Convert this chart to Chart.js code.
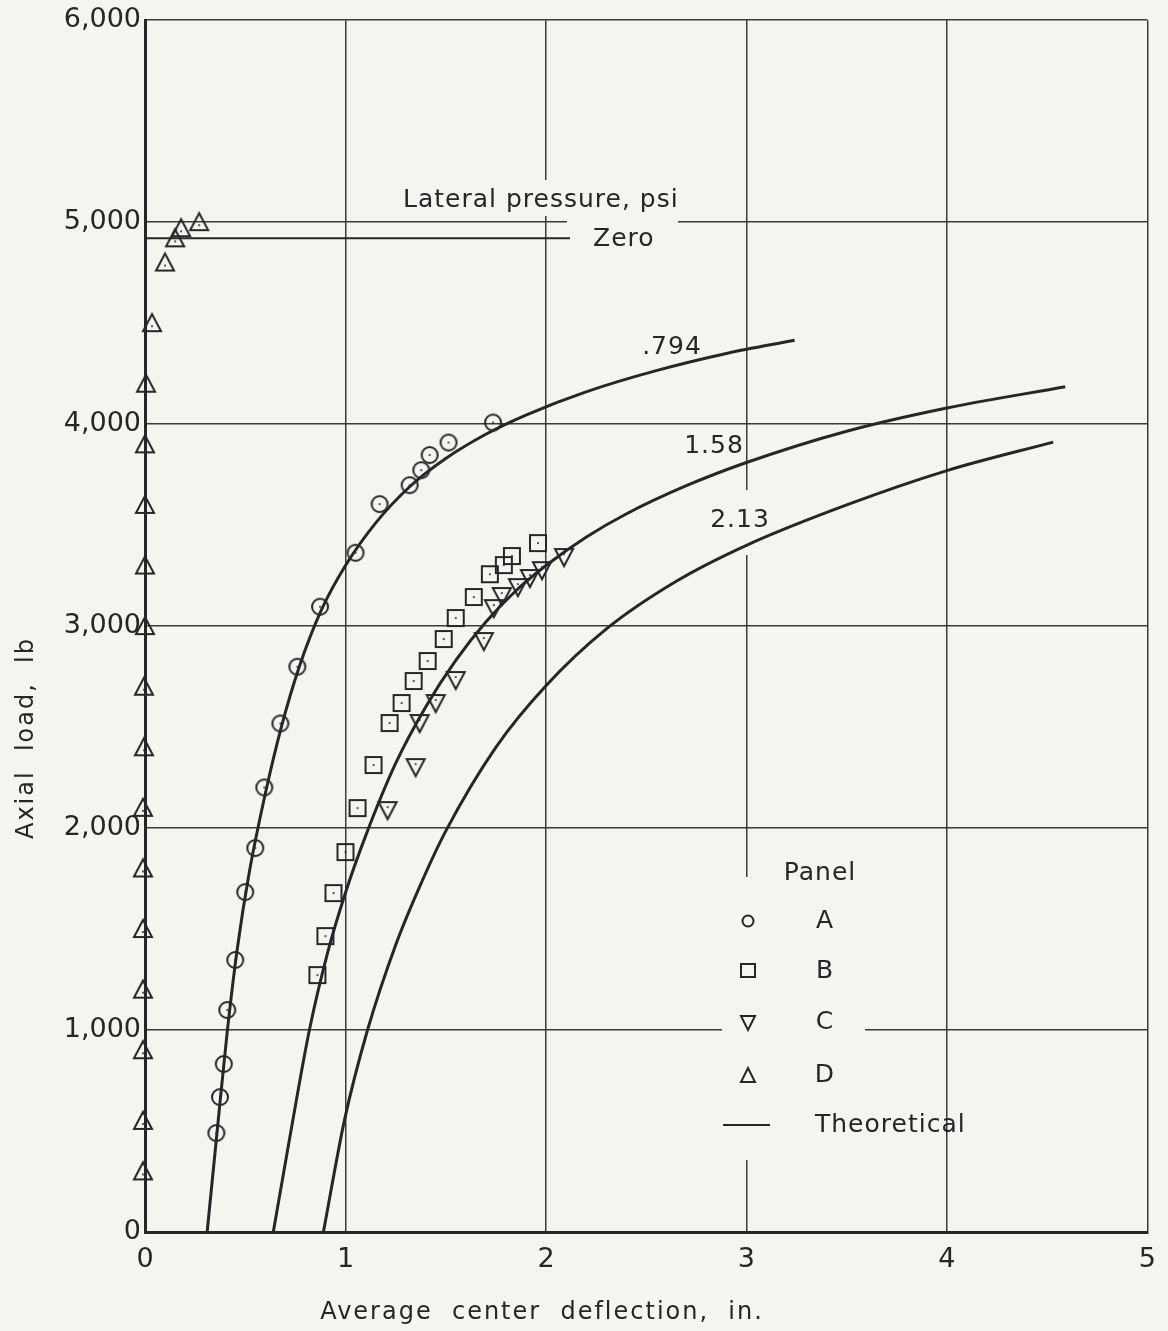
<!DOCTYPE html>
<html lang="en">
<head>
    <meta charset="UTF-8">
    <title>Axial load vs center deflection</title>
    <script src="https://cdn.jsdelivr.net/npm/chart.js"></script>
    <style>
        html, body { margin: 0; padding: 0; background: #f4f4f1; }
        #wrap { width: 1168px; height: 1331px; }
    </style>
</head>
<body>
<div id="wrap"><canvas id="chart" width="1168" height="1331"></canvas></div>
<script>
    // ---- data ----
    const xTicks = [0, 1, 2, 3, 4, 5];
    const yTicks = [0, 1000, 2000, 3000, 4000, 5000, 6000];

    // Panel A (circles)
    const defA  = [0.356, 0.374, 0.393, 0.41, 0.45, 0.50, 0.55, 0.595, 0.675, 0.76, 0.873, 1.05, 1.17, 1.32, 1.378, 1.42, 1.514, 1.736];
    const loadA = [490, 668, 832, 1099, 1347, 1683, 1901, 2201, 2518, 2799, 3096, 3363, 3604, 3698, 3772, 3847, 3909, 4008];
    // Panel B (squares)
    const defB  = [0.86, 0.90, 0.94, 1.00, 1.06, 1.14, 1.22, 1.28, 1.34, 1.41, 1.49, 1.55, 1.64, 1.72, 1.79, 1.83, 1.96];
    const loadB = [1272, 1465, 1678, 1881, 2099, 2312, 2520, 2619, 2728, 2827, 2936, 3040, 3144, 3257, 3302, 3347, 3411];
    // Panel C (down triangles)
    const defC  = [1.21, 1.35, 1.37, 1.45, 1.55, 1.69, 1.74, 1.78, 1.86, 1.92, 1.98, 2.09];
    const loadC = [2089, 2302, 2520, 2619, 2733, 2926, 3089, 3149, 3193, 3238, 3277, 3342];
    // Panel D (up triangles), listed from the top down
    const defD  = [0.27, 0.18, 0.15, 0.10, 0.035, 0.005, 0, 0, 0, 0, -0.005, -0.005, -0.01, -0.01, -0.01, -0.01, -0.01, -0.01, -0.01];
    const loadD = [5000, 4970, 4920, 4800, 4500, 4200, 3900, 3600, 3300, 3000, 2700, 2400, 2100, 1800, 1500, 1200, 900, 550, 300];

    // Theoretical curves, lateral pressure .794, 1.58, 2.13 psi
    const def794  = [0.31, 0.36, 0.41, 0.46, 0.52, 0.60, 0.68, 0.77, 0.88, 1.00, 1.15, 1.32, 1.50, 1.70, 1.90, 2.20, 2.55, 2.90, 3.24];
    const load794 = [0, 500, 990, 1400, 1780, 2170, 2500, 2800, 3080, 3300, 3510, 3690, 3830, 3950, 4045, 4160, 4265, 4350, 4415];
    const def158  = [0.64, 0.72, 0.82, 0.91, 1.00, 1.10, 1.25, 1.40, 1.55, 1.70, 1.85, 2.00, 2.20, 2.40, 2.70, 3.00, 3.50, 4.00, 4.59];
    const load158 = [0, 455, 1000, 1380, 1680, 1960, 2320, 2600, 2830, 3020, 3175, 3300, 3440, 3555, 3695, 3810, 3965, 4080, 4185];
    const def213  = [0.89, 0.995, 1.11, 1.25, 1.37, 1.50, 1.75, 2.00, 2.30, 2.65, 3.00, 3.50, 4.00, 4.53];
    const load213 = [0, 554, 1000, 1420, 1710, 1985, 2400, 2705, 2985, 3222, 3400, 3600, 3770, 3911];
    // Zero lateral pressure
    const defZero  = [0, 2.12];
    const loadZero = [4920, 4920];

    const BG = '#f4f4f1';
    const INK = '#262626';
    const FONT = "'DejaVu Sans', sans-serif";

    function pts(xs, ys) {
        return xs.map((v, i) => ({ x: v, y: ys[i] }));
    }

    // open symbols with the small centre dot of the original plot
    function makeMarker(kind) {
        const c = document.createElement('canvas');
        c.width = 24; c.height = 24;
        const g = c.getContext('2d');
        g.strokeStyle = INK; g.fillStyle = INK; g.lineWidth = 2;
        g.beginPath();
        let dotY = 12;
        if (kind === 'circle') {
            g.arc(12, 12, 8, 0, Math.PI * 2);
        } else if (kind === 'square') {
            g.rect(4, 4, 16, 16);
        } else if (kind === 'up') {
            g.moveTo(12, 3); g.lineTo(21, 20); g.lineTo(3, 20); g.closePath();
            dotY = 15;
        } else {
            g.moveTo(3, 4); g.lineTo(21, 4); g.lineTo(12, 21); g.closePath();
            dotY = 9;
        }
        g.stroke();
        g.beginPath(); g.arc(12, dotY, 1, 0, Math.PI * 2); g.fill();
        return c;
    }

    function markerSet(label, xs, ys, kind) {
        return {
            label: label,
            data: pts(xs, ys),
            showLine: false,
            pointStyle: makeMarker(kind),
            pointRadius: 10,
            clip: false
        };
    }

    function curveSet(label, xs, ys, width) {
        return {
            label: label,
            data: pts(xs, ys),
            showLine: true,
            borderColor: INK,
            borderWidth: width,
            pointRadius: 0,
            cubicInterpolationMode: 'monotone',
            fill: false
        };
    }

    // gaps in the grid behind the labels, and all the hand lettering
    const lettering = {
        id: 'lettering',
        beforeDatasetsDraw(chart) {
            const ctx = chart.ctx;
            ctx.save();
            ctx.fillStyle = BG;
            ctx.fillRect(567, 216, 111, 12);   // 5000 line behind "Zero"
            ctx.fillRect(539, 180, 14, 36);    // x=2 line behind the heading
            ctx.fillRect(738, 490, 14, 65);    // x=3 line behind "2.13"
            ctx.fillRect(738, 877, 14, 283);   // x=3 line behind the key
            ctx.fillRect(722, 1024, 143, 14);  // 1000 line behind the key
            ctx.restore();
        },
        afterDraw(chart) {
            const ctx = chart.ctx;
            ctx.save();
            ctx.fillStyle = INK;
            ctx.strokeStyle = INK;
            ctx.textBaseline = 'middle';
            ctx.font = '25px ' + FONT;
            ctx.letterSpacing = '1px';

            ctx.textAlign = 'left';
            ctx.fillText('Lateral pressure, psi', 403, 200);
            ctx.fillText('Zero', 593, 239);
            ctx.textAlign = 'center';
            ctx.fillText('.794', 672, 347);
            ctx.fillText('1.58', 714, 446);
            ctx.fillText('2.13', 740, 520);

            // key
            ctx.fillText('Panel', 820, 873);
            const rows = [
                ['A', 921], ['B', 971], ['C', 1022], ['D', 1075]
            ];
            rows.forEach(r => ctx.fillText(r[0], 825, r[1]));
            ctx.textAlign = 'left';
            ctx.fillText('Theoretical', 815, 1125);

            ctx.lineWidth = 2;
            ctx.beginPath(); ctx.arc(748, 921, 5.5, 0, Math.PI * 2); ctx.stroke();
            ctx.strokeRect(741, 964, 14, 13);
            ctx.beginPath();
            ctx.moveTo(741, 1016); ctx.lineTo(755, 1016); ctx.lineTo(748, 1030); ctx.closePath(); ctx.stroke();
            ctx.beginPath();
            ctx.moveTo(748, 1068); ctx.lineTo(755, 1082); ctx.lineTo(741, 1082); ctx.closePath(); ctx.stroke();
            ctx.beginPath(); ctx.moveTo(723, 1125); ctx.lineTo(770, 1125); ctx.stroke();

            // axis titles
            ctx.font = '24px ' + FONT;
            ctx.letterSpacing = '2px';
            ctx.textAlign = 'center';
            ctx.fillText('Average  center  deflection,  in.', 542, 1313);
            ctx.translate(27, 738);
            ctx.rotate(-Math.PI / 2);
            ctx.fillText('Axial  load,  lb', 0, 0);
            ctx.restore();
        }
    };

    new Chart(document.getElementById('chart'), {
        type: 'scatter',
        data: {
            datasets: [
                curveSet('Zero', defZero, loadZero, 2),
                curveSet('.794', def794, load794, 3),
                curveSet('1.58', def158, load158, 3),
                curveSet('2.13', def213, load213, 3),
                markerSet('A', defA, loadA, 'circle'),
                markerSet('B', defB, loadB, 'square'),
                markerSet('C', defC, loadC, 'down'),
                markerSet('D', defD, loadD, 'up')
            ]
        },
        options: {
            responsive: false,
            animation: false,
            layout: { padding: { top: 20, right: 18, left: 0, bottom: 0 } },
            plugins: {
                legend: { display: false },
                tooltip: { enabled: false }
            },
            scales: {
                x: {
                    type: 'linear',
                    min: 0,
                    max: 5,
                    afterBuildTicks: s => { s.ticks = xTicks.map(v => ({ value: v })); },
                    afterFit: s => { s.height = 99; },
                    grid: { color: '#3a3a3a', lineWidth: 1.5, drawTicks: false },
                    border: { color: INK, width: 3 },
                    ticks: {
                        color: INK,
                        padding: 12,
                        font: { family: FONT, size: 27 }
                    }
                },
                y: {
                    type: 'linear',
                    min: 0,
                    max: 6000,
                    afterBuildTicks: s => { s.ticks = yTicks.map(v => ({ value: v })); },
                    afterFit: s => { s.width = 145; },
                    grid: { color: '#3a3a3a', lineWidth: 1.5, drawTicks: false },
                    border: { color: INK, width: 3 },
                    ticks: {
                        color: INK,
                        padding: 4,
                        font: { family: FONT, size: 27 },
                        callback: v => v.toLocaleString('en-US')
                    }
                }
            }
        },
        plugins: [lettering]
    });
</script>
</body>
</html>
